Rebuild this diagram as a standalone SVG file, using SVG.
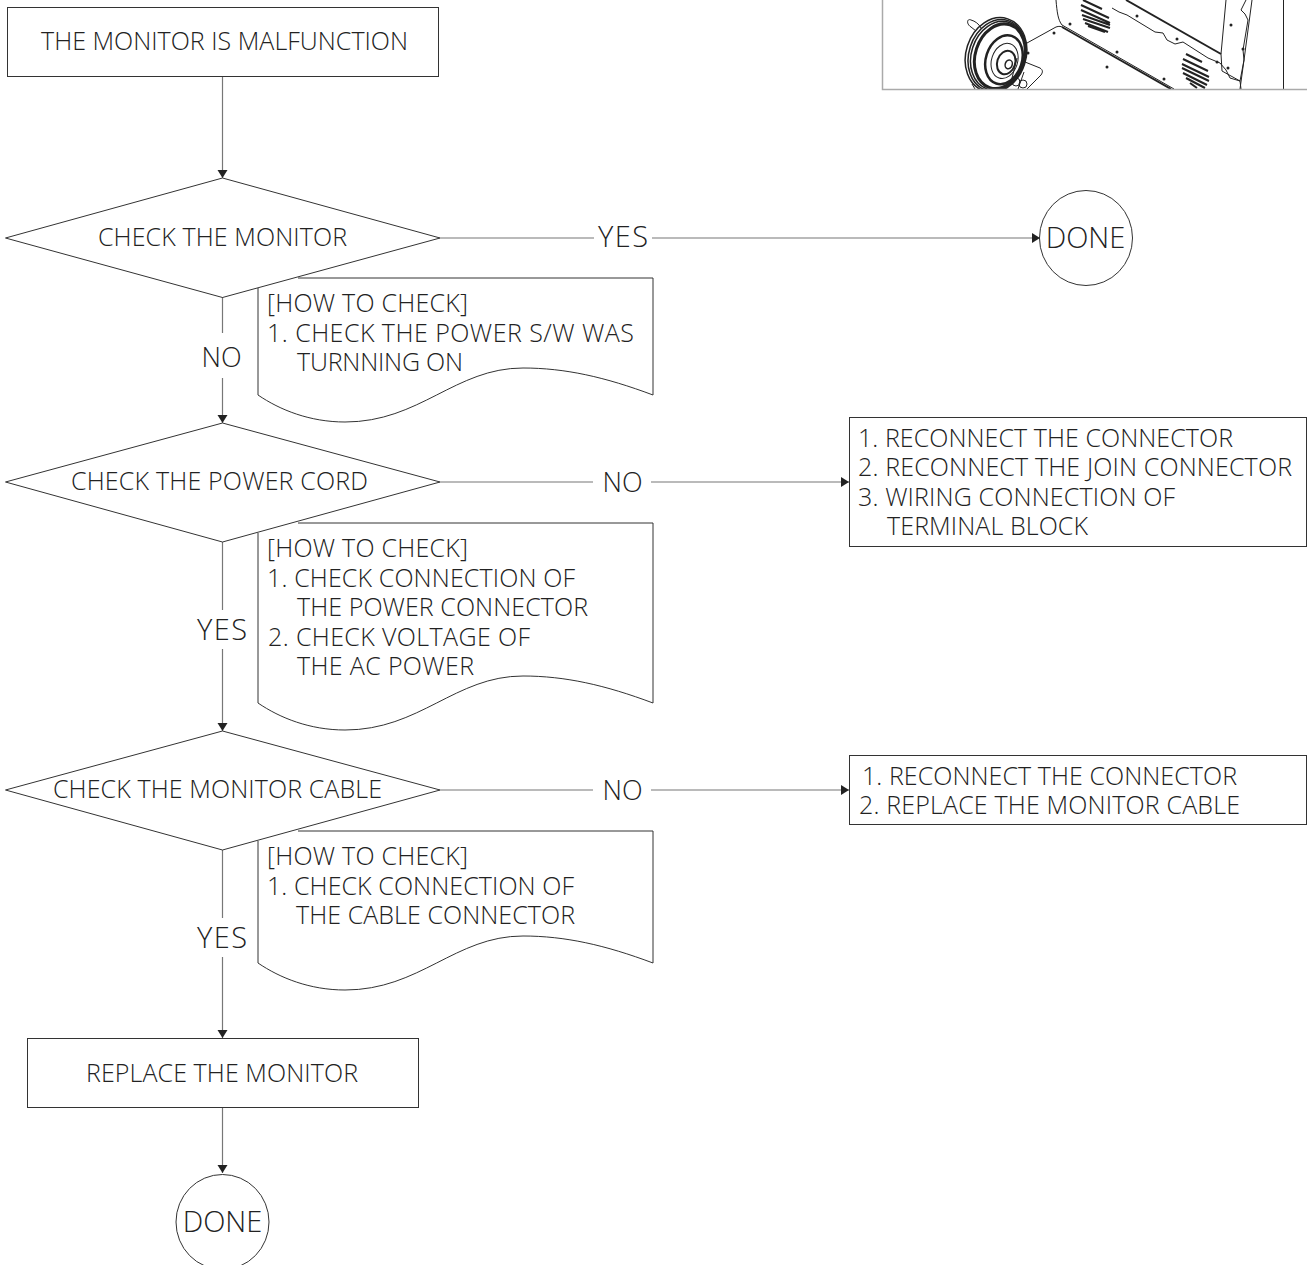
<svg xmlns="http://www.w3.org/2000/svg" width="1307" height="1265" viewBox="0 0 1307 1265">
<style>
.s{fill:none;stroke:#333;stroke-width:1}
.c{fill:none;stroke:#777;stroke-width:1.200}
text{font-family:"Open Sans","Noto Sans","Liberation Sans",sans-serif;font-weight:300;font-size:25px;fill:#222}
.m{text-anchor:middle}
.l{font-size:29px}
.n{font-size:27px;text-anchor:middle}
.ill{fill:none;stroke:#222;stroke-width:1}
.ib{fill:none;stroke:#222;stroke-width:2}
.d{fill:#222}
</style>
<defs>
<marker id="a" markerUnits="userSpaceOnUse" markerWidth="10" markerHeight="12" refX="9" refY="6" orient="auto"><path d="M1 1L9 6L1 11Z" fill="#222"/></marker>
<clipPath id="k"><rect x="883" y="0" width="424" height="89"/></clipPath>
</defs>
<rect width="1307" height="1265" fill="#fff"/>
<g id="illustration">
<g clip-path="url(#k)">
<path class="ill" d="M1283.500 0V89"/>
<path class="ill" d="M1056 0C1057 12 1058 20 1062 25L1174 89"/>
<path class="ib" d="M1062 27L1171 89"/>
<path class="ill" d="M1027 43L1056 27C1059 26 1061 26 1064 28"/>
<path class="ib" d="M1126 0L1221 54"/>
<path class="ill" d="M1112 8L1119 12L1127 15L1155 32L1163 33L1167 40L1175 44L1183 42L1208 58L1220 63L1226 70L1230 78L1240 81"/>
<path class="ill" d="M1226 0L1221 54L1222 71L1240 81L1244 60L1243 50L1248 20L1245 14L1241 10L1246 0M1240 81L1241 89M1252 0L1244 60L1240 89"/>
<path class="ib" d="M1083 0L1102 9M1081 5L1109 18M1081 10L1110 23M1082 15L1110 25M1083 19L1110 28M1085 23L1108 32M1088 26L1105 32"/>
<path class="ib" d="M1186 54L1202 62M1183 59L1208 71M1182 64L1209 77M1182 68L1209 81M1183 73L1207 85M1186 78L1205 88M1190 83L1197 88"/>
<circle class="d" cx="1070" cy="24" r="1.500"/><circle class="d" cx="1054" cy="33" r="1.500"/><circle class="d" cx="1028" cy="53" r="1.500"/><circle class="d" cx="1117" cy="52" r="1.500"/><circle class="d" cx="1107" cy="67" r="1.500"/><circle class="d" cx="1164" cy="79" r="1.500"/><circle class="d" cx="1137" cy="16" r="1.500"/><circle class="d" cx="1177" cy="39" r="1.500"/><circle class="d" cx="1217" cy="62" r="1.500"/><circle class="d" cx="1228" cy="68" r="1.500"/><circle class="d" cx="1231" cy="25" r="1.500"/><circle class="d" cx="1243" cy="49" r="1.500"/>
<g transform="rotate(18 996 55)" fill="none" stroke="#222">
<ellipse cx="996" cy="55" rx="30" ry="38" fill="#fff" stroke-width="1.500"/>
<ellipse cx="997" cy="55" rx="28" ry="36.500" stroke-width="1.500"/>
<ellipse cx="998" cy="55" rx="26.500" ry="35" stroke-width="1.500"/>
<ellipse cx="1000" cy="55" rx="24.500" ry="33" stroke-width="3"/>
<ellipse cx="1005" cy="57" rx="18" ry="25" stroke-width="2.500"/>
<ellipse cx="1006" cy="58" rx="13" ry="18" stroke-width="1"/>
<ellipse cx="1008" cy="59" rx="9" ry="12" stroke-width="2"/>
<ellipse cx="1011" cy="60" rx="3.500" ry="4.500" stroke-width="1.500"/>
</g>
<path class="ill" d="M976 31L971 27C966 24 967 18 971 20C975 21 979 24 981 28" fill="#fff"/>
<path class="ill" d="M1025 62L1040 68C1043 70 1043 72 1041 75L1027 89M1017 58L1012 78M1024 72L1018 89"/>
<circle class="ill" cx="1016" cy="82" r="4"/><circle class="ill" cx="1023" cy="84" r="4"/>
<path class="ill" d="M972 84L975 89"/>
</g>
<path d="M882.500 0V89.500H1307" fill="none" stroke="#aaa" stroke-width="1.500"/>
</g>
<g id="connectors">
<path class="c" d="M222.500 76V178" marker-end="url(#a)"/>
<path class="c" d="M440 238H594M652 238H1040" marker-end="url(#a)"/>
<path class="c" d="M222.500 297V333M222.500 378V423" marker-end="url(#a)"/>
<path class="c" d="M440 482H593M651 482H849" marker-end="url(#a)"/>
<path class="c" d="M222.500 542V610M222.500 649V731" marker-end="url(#a)"/>
<path class="c" d="M440 790H593M651 790H849" marker-end="url(#a)"/>
<path class="c" d="M222.500 850V918M222.500 957V1038" marker-end="url(#a)"/>
<path class="c" d="M222.500 1107V1173" marker-end="url(#a)"/>
<text class="l" x="598" y="247" textLength="50">YES</text>
<text class="n" x="221.500" y="367">NO</text>
<text class="n" x="622.500" y="492">NO</text>
<text class="l" x="197" y="640" textLength="50">YES</text>
<text class="n" x="622.500" y="800">NO</text>
<text class="l" x="197" y="948" textLength="50">YES</text>
</g>
<g id="start"><rect class="s" x="7.500" y="7.500" width="431" height="69"/><text x="41" y="50" textLength="367">THE MONITOR IS MALFUNCTION</text></g>
<g id="check-monitor"><path class="s" d="M5.500 238L222.500 178L440 238L222.500 297.500Z"/><text x="98" y="246" textLength="249">CHECK THE MONITOR</text></g>
<g id="how-1"><path class="s" d="M298 278H653V395C605 377 565 368 523 368C455 368 420 422 345 422C310 422 280 410 258 395V288"/>
<text x="267" y="311.500" textLength="201">[HOW TO CHECK]</text><text x="267" y="341.500" textLength="367">1. CHECK THE POWER S/W WAS</text><text x="297" y="370.500" textLength="166">TURNNING ON</text></g>
<g id="done-1"><ellipse class="s" cx="1086" cy="238" rx="46.500" ry="47.500"/><text class="l m" x="1085.500" y="247.500">DONE</text></g>
<g id="check-power"><path class="s" d="M5.500 482L222.500 423L440 482L222.500 542Z"/><text x="71" y="490" textLength="297">CHECK THE POWER CORD</text></g>
<g id="how-2"><path class="s" d="M298 523H653V703C605 685 565 676 523 676C455 676 420 730 345 730C310 730 280 718 258 703V533"/>
<text x="267" y="556.500" textLength="201">[HOW TO CHECK]</text><text x="267" y="586.500" textLength="308">1. CHECK CONNECTION OF</text><text x="297" y="615.500" textLength="291">THE POWER CONNECTOR</text><text x="268" y="645.500" textLength="262">2. CHECK VOLTAGE OF</text><text x="297" y="674.500" textLength="177">THE AC POWER</text></g>
<g id="fix-power"><rect class="s" x="849.500" y="417.500" width="457" height="129"/>
<text x="858" y="446.500" textLength="375">1. RECONNECT THE CONNECTOR</text><text x="858" y="475.500" textLength="434">2. RECONNECT THE JOIN CONNECTOR</text><text x="858" y="505.500" textLength="317">3. WIRING CONNECTION OF</text><text x="887" y="534.500" textLength="201">TERMINAL BLOCK</text></g>
<g id="check-cable"><path class="s" d="M5.500 790L222.500 731L440 790L222.500 850Z"/><text x="53" y="798" textLength="329">CHECK THE MONITOR CABLE</text></g>
<g id="how-3"><path class="s" d="M298 831H653V963C605 945 565 936 523 936C455 936 420 990 345 990C310 990 280 978 258 963V841"/>
<text x="267" y="864.500" textLength="201">[HOW TO CHECK]</text><text x="267" y="894.500" textLength="307">1. CHECK CONNECTION OF</text><text x="296" y="923.500" textLength="279">THE CABLE CONNECTOR</text></g>
<g id="fix-cable"><rect class="s" x="849.500" y="755.500" width="457" height="69"/>
<text x="862" y="784.500" textLength="375">1. RECONNECT THE CONNECTOR</text><text x="859" y="813.500" textLength="381">2. REPLACE THE MONITOR CABLE</text></g>
<g id="replace"><rect class="s" x="27.500" y="1038.500" width="391" height="69"/><text x="86" y="1082" textLength="272">REPLACE THE MONITOR</text></g>
<g id="done-2"><ellipse class="s" cx="222.500" cy="1222" rx="46.500" ry="47.500"/><text class="l m" x="222.500" y="1231.500">DONE</text></g>
</svg>
